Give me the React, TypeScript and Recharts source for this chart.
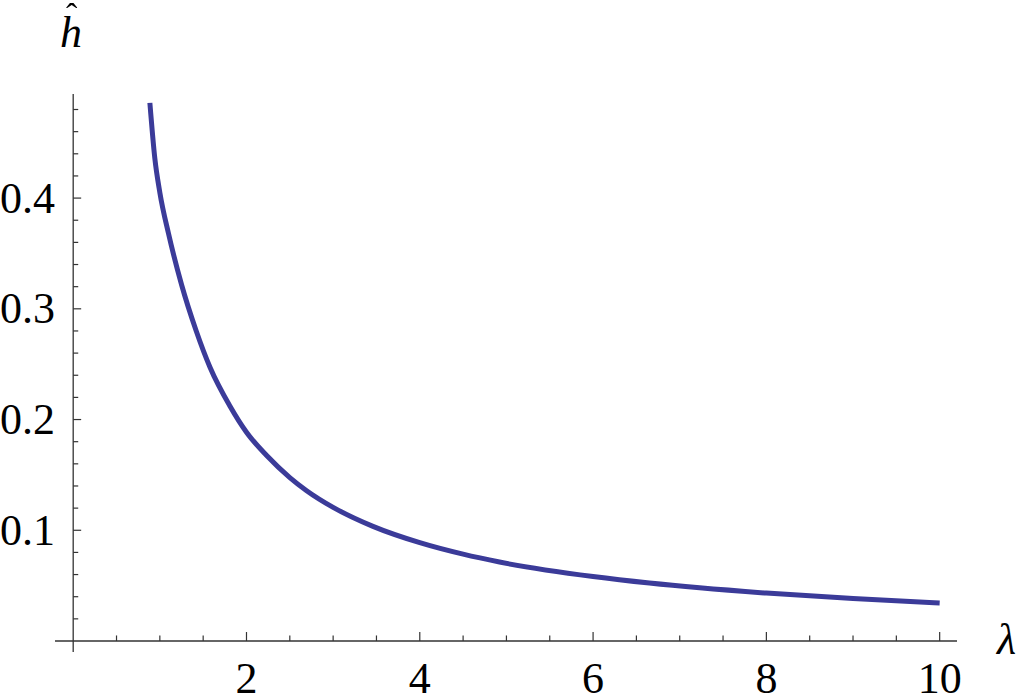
import React from 'react';
import { LineChart, Line, XAxis, YAxis, ReferenceLine } from 'recharts';

const lambdaValues = [
  0.885, 0.942, 1.0, 1.1, 1.25, 1.42, 1.58, 1.81, 2.0, 2.23, 2.5, 2.69, 3.0,
  3.46, 4.0, 4.5, 4.92, 6.0, 6.65, 7.23, 8.0, 9.0, 10.0,
];
const hHatValues = [
  0.486, 0.436, 0.405, 0.368, 0.322, 0.28, 0.247, 0.212, 0.1885, 0.1677,
  0.1476, 0.136, 0.1207, 0.1035, 0.0888, 0.0784, 0.0713, 0.0582, 0.0523, 0.048,
  0.0433, 0.0383, 0.0343,
];

const xMajorTicks = [2, 4, 6, 8, 10];
const xMinorTicks = [0.5, 1, 1.5, 2.5, 3, 3.5, 4.5, 5, 5.5, 6.5, 7, 7.5, 8.5, 9, 9.5];
const yMajorTicks = [0.1, 0.2, 0.3, 0.4];
const yMinorTicks = [
  0.02, 0.04, 0.06, 0.08, 0.12, 0.14, 0.16, 0.18, 0.22, 0.24, 0.26, 0.28, 0.32,
  0.34, 0.36, 0.38, 0.42, 0.44, 0.46, 0.48,
];

const data = lambdaValues.map((l, i) => ({ lambda: l, h: hHatValues[i] }));

const FONT = '"Liberation Serif", "Times New Roman", serif';
const AXIS = '#333';

const YTick = ({ x, y, payload }: any) => (
  <text x={x} y={y} textAnchor="end" dominantBaseline="central" fontFamily={FONT} fontSize={44} fill="#000">
    {payload.value}
  </text>
);

const XTick = ({ x, y, payload }: any) => (
  <text x={x} y={y + 52} textAnchor="middle" fontFamily={FONT} fontSize={44} fill="#000">
    {payload.value}
  </text>
);

export default function App() {
  return (
    <div style={{ position: 'fixed', left: 0, top: 0, width: 1024, height: 699, background: '#fff' }}>
      <LineChart width={1024} height={699} data={data} margin={{ top: 94, right: 67, bottom: 0, left: 0 }}>
        <XAxis
          dataKey="lambda"
          type="number"
          domain={[-0.21, 10.2]}
          ticks={xMajorTicks}
          allowDataOverflow
          height={58}
          tickSize={0}
          tickMargin={0}
          tickLine={false}
          axisLine={{ stroke: AXIS, strokeWidth: 1.3 }}
          tick={<XTick />}
        />
        <YAxis
          type="number"
          domain={[0, 0.494]}
          ticks={yMajorTicks}
          allowDataOverflow
          width={55}
          tickSize={0}
          tickMargin={0}
          tickLine={false}
          axisLine={false}
          tick={<YTick />}
        />
        <ReferenceLine
          segment={[{ x: 0, y: -0.01 }, { x: 0, y: 0.494 }]}
          stroke={AXIS}
          strokeWidth={1.3}
          ifOverflow="visible"
        />
        {yMajorTicks.map((v) => (
          <ReferenceLine key={'ym' + v} segment={[{ x: 0, y: v }, { x: 0.092, y: v }]} stroke={AXIS} strokeWidth={1.2} ifOverflow="visible" />
        ))}
        {yMinorTicks.map((v) => (
          <ReferenceLine key={'yn' + v} segment={[{ x: 0, y: v }, { x: 0.058, y: v }]} stroke={AXIS} strokeWidth={1.2} ifOverflow="visible" />
        ))}
        {xMajorTicks.map((v) => (
          <ReferenceLine key={'xm' + v} segment={[{ x: v, y: 0 }, { x: v, y: 0.0081 }]} stroke={AXIS} strokeWidth={1.2} ifOverflow="visible" />
        ))}
        {xMinorTicks.map((v) => (
          <ReferenceLine key={'xn' + v} segment={[{ x: v, y: 0 }, { x: v, y: 0.005 }]} stroke={AXIS} strokeWidth={1.2} ifOverflow="visible" />
        ))}
        <Line
          type="monotone"
          dataKey="h"
          stroke="#3b3b99"
          strokeWidth={5}
          dot={false}
          activeDot={false}
          isAnimationActive={false}
        />
      </LineChart>
      {/* axis titles: h with a hat, and lambda */}
      <div style={{ position: 'absolute', left: 60, top: 11, fontFamily: FONT, fontSize: 44, fontStyle: 'italic', lineHeight: 1 }}>
        h
      </div>
      <div style={{ position: 'absolute', left: 66, top: -1, fontFamily: FONT, fontSize: 34, lineHeight: 1 }}>
        ˆ
      </div>
      <div style={{ position: 'absolute', left: 997, top: 618, fontFamily: FONT, fontSize: 44, fontStyle: 'italic', lineHeight: 1 }}>
        λ
      </div>
    </div>
  );
}
